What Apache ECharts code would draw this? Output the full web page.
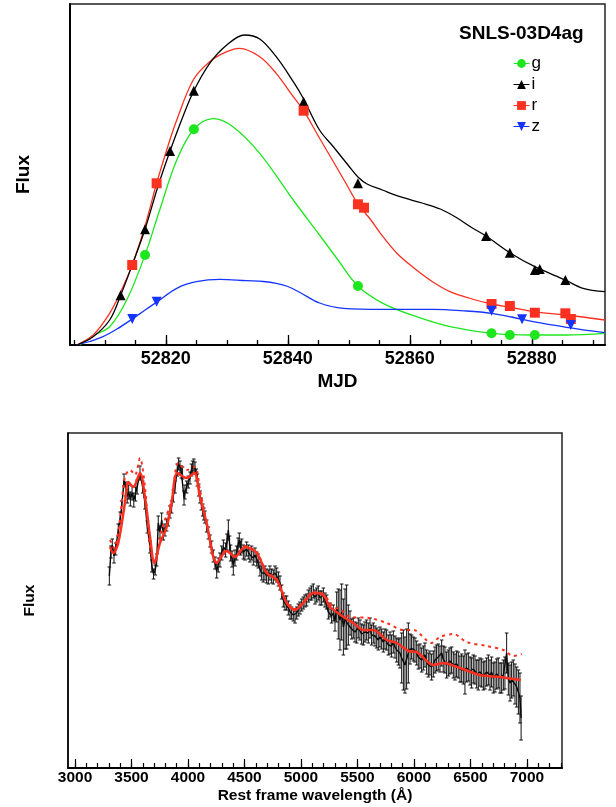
<!DOCTYPE html>
<html>
<head>
<meta charset="utf-8">
<title>SNLS-03D4ag</title>
<script src="https://cdn.jsdelivr.net/npm/echarts@6/dist/echarts.min.js"></script>
<style>
html, body { margin: 0; padding: 0; background: #fff; }
#chart { width: 616px; height: 807px; }
</style>
</head>
<body>
<div id="chart"></div>
<script>
// ---- light curve (top panel) ----
var mjdMajor = [52820, 52840, 52860, 52880];
var mjdMinor = [52805, 52810, 52815, 52820, 52825, 52830, 52835, 52840, 52845, 52850, 52855, 52860, 52865, 52870, 52875, 52880, 52885, 52890];

var gPts = [[52816.6, 9.0], [52824.6, 21.57], [52851.5, 5.9], [52873.4, 1.17], [52876.4, 1.0], [52880.5, 1.0]];
var iPts = [[52812.6, 4.97], [52816.6, 11.57], [52820.7, 19.4], [52824.6, 25.43], [52842.6, 24.33], [52851.5, 16.17],
            [52872.5, 10.9], [52876.4, 9.23], [52880.5, 7.5], [52881.3, 7.6], [52885.5, 6.5]];
var rPts = [[52814.5, 8.0], [52818.5, 16.17], [52842.6, 23.43], [52851.5, 14.07], [52852.5, 13.73], [52873.4, 4.1],
            [52876.4, 3.9], [52880.5, 3.23], [52885.5, 3.17], [52886.4, 2.6]];
var zPts = [[52814.5, 2.6], [52818.5, 4.33], [52873.4, 3.43], [52878.4, 2.57], [52886.4, 2.0]];

var gCurve = [[52805.9, 0], [52808.3, 1.0], [52810.8, 1.83], [52813.6, 4.5], [52816.6, 9.0], [52819, 13.5], [52821.8, 18.5],
              [52824.6, 21.57], [52827.8, 22.63], [52831, 21.83], [52835.4, 19.17], [52840.9, 14.5], [52845.2, 11.0],
              [52848, 8.7], [52851.5, 5.9], [52855.6, 4.17], [52861.1, 2.83], [52866.6, 1.83], [52873.4, 1.17],
              [52880.2, 1.0], [52885.7, 1.0], [52892, 1.17]];
var iCurve = [[52805.4, 0], [52808.1, 0.83], [52810.8, 2.5], [52812.6, 4.97], [52814.6, 8.17], [52816.6, 11.57],
              [52818.7, 15.83], [52820.7, 19.4], [52822.8, 22.83], [52824.6, 25.43], [52827.2, 28.17], [52830, 30.0],
              [52832.9, 31.0], [52835.4, 30.6], [52838.1, 28.83], [52840.9, 26.33], [52842.6, 24.6], [52845.2, 21.5],
              [52847.5, 19.8], [52850, 17.9], [52851.5, 16.8], [52853, 16.1], [52855.5, 15.5], [52858.4, 14.83],
              [52862, 14.2], [52865, 13.6], [52867.5, 12.8], [52870, 11.8], [52872.5, 10.9], [52876.4, 9.23],
              [52880.5, 7.83], [52885.5, 6.5], [52888.4, 5.67], [52892, 5.33]];
var rCurve = [[52805.4, 0], [52808.1, 1.0], [52810.8, 3.17], [52812.6, 5.3], [52814.5, 8.0], [52816.6, 11.9],
              [52818.5, 16.17], [52820.2, 19.6], [52821.8, 22.5], [52824.5, 26.5], [52827.2, 28.33], [52830, 29.33],
              [52832.1, 29.67], [52835.4, 28.83], [52838.1, 27.17], [52840.9, 24.83], [52842.6, 23.43], [52845, 20.9],
              [52847.5, 18.3], [52849.5, 16.2], [52851.5, 14.1], [52853.5, 12.6], [52855.6, 10.83], [52858, 9.1],
              [52861.1, 7.5], [52863.8, 6.3], [52866.6, 5.33], [52870.2, 4.6], [52873.4, 4.1], [52876.7, 3.75],
              [52880.2, 3.33], [52885.7, 3.0], [52892, 2.5]];
var zCurve = [[52805.4, 0], [52807.5, 0.35], [52809.7, 0.83], [52812, 1.6], [52814.5, 2.6], [52816.5, 3.45],
              [52818.6, 4.33], [52821.8, 5.67], [52825, 6.33], [52828.9, 6.57], [52833.2, 6.43], [52836, 6.35],
              [52838.1, 6.17], [52840, 5.85], [52842, 5.25], [52845.2, 4.2], [52849.1, 3.67], [52855.6, 3.57],
              [52863.8, 3.57], [52869.3, 3.4], [52873.4, 3.17], [52876.7, 2.8], [52880.2, 2.33], [52885.7, 1.77],
              [52892, 1.23]];

// ---- spectrum (bottom panel) ----
var waveMajor = [3000, 3500, 4000, 4500, 5000, 5500, 6000, 6500, 7000];
var waveMinor = [];
for (var w = 3000; w <= 7300; w += 100) waveMinor.push(w);

var specWave = [3304, 3318, 3330, 3345, 3360, 3383, 3400, 3413, 3434, 3448, 3462, 3475, 3490, 3505, 3520, 3535, 3550, 3575,
  3599, 3619, 3640, 3664, 3680, 3695, 3710, 3723, 3737, 3752, 3767, 3782, 3796, 3811, 3826, 3840, 3855, 3870, 3885, 3905,
  3917, 3929, 3941, 3952, 3965, 3973, 3988, 4003, 4018, 4030, 4041, 4052, 4062, 4073, 4083, 4095, 4106, 4118, 4130, 4140,
  4150, 4165, 4180, 4195, 4209, 4224, 4239, 4254, 4268, 4283, 4298, 4313, 4333, 4345, 4357, 4368, 4377, 4390, 4401, 4416,
  4431, 4443, 4454, 4465, 4475, 4490, 4504, 4519, 4534, 4548, 4563, 4578, 4593, 4608, 4622, 4637, 4652, 4666, 4681, 4696,
  4711, 4725, 4740, 4755, 4770, 4785, 4800, 4814, 4829, 4844, 4858, 4873, 4888, 4903, 4917, 4932, 4947, 4962, 4976, 4991,
  5006, 5020, 5035, 5050, 5065, 5080, 5094, 5109, 5124, 5139, 5153, 5168, 5183, 5198, 5212, 5227, 5242, 5257, 5271, 5286,
  5301, 5316, 5330, 5345, 5360, 5375, 5390, 5404, 5419, 5434, 5449, 5463, 5478, 5493, 5507, 5522, 5537, 5552, 5566, 5581,
  5596, 5611, 5625, 5640, 5655, 5670, 5684, 5699, 5714, 5729, 5743, 5758, 5773, 5788, 5802, 5817, 5832, 5847, 5862, 5876,
  5891, 5906, 5920, 5935, 5950, 5965, 5979, 5994, 6009, 6024, 6038, 6053, 6068, 6083, 6097, 6112, 6127, 6141, 6156, 6171,
  6186, 6200, 6215, 6230, 6245, 6259, 6274, 6289, 6304, 6318, 6333, 6348, 6363, 6377, 6392, 6407, 6422, 6437, 6451, 6466,
  6481, 6496, 6510, 6525, 6540, 6555, 6569, 6584, 6599, 6614, 6628, 6643, 6658, 6673, 6687, 6702, 6717, 6732, 6746, 6761,
  6776, 6791, 6805, 6820, 6835, 6850, 6864, 6879, 6894, 6909, 6924, 6938, 6948];
var specFlux = [19.2, 21.6, 22.3, 21.2, 21.9, 23.8, 25.0, 26.1, 28.8, 27.9, 27.2, 27.6, 26.9, 27.5, 26.8, 27.4, 28.1, 29.5,
  28.1, 26.5, 24.1, 22.1, 20.2, 19.4, 19.8, 20.8, 24.5, 23.6, 24.8, 23.4, 23.8, 24.3, 24.8, 25.6, 26.1, 27.2, 28.1, 29.8,
  30.4, 30.1, 29.6, 29.5, 27.0, 27.6, 28.1, 28.6, 29.0, 29.8, 30.1, 30.3, 30.0, 29.3, 28.8, 27.8, 27.1, 26.4, 25.8, 25.4,
  25.1, 24.2, 23.5, 22.7, 22.1, 21.2, 20.5, 19.7, 20.3, 20.8, 21.5, 22.1, 21.8, 22.6, 23.8, 22.4, 21.5, 20.9, 20.3, 21.0,
  21.5, 22.3, 22.8, 22.0, 22.2, 21.6, 21.5, 21.9, 21.6, 21.3, 21.5, 21.0, 21.3, 20.9, 20.7, 19.9, 19.5, 19.3, 19.5, 19.2,
  19.1, 19.5, 19.2, 19.1, 19.5, 19.3, 18.9, 18.5, 17.6, 16.8, 16.5, 16.5, 16.0, 15.6, 15.5, 15.3, 15.1, 15.5, 15.8, 16.0,
  16.3, 16.5, 16.7, 16.8, 17.2, 17.4, 17.5, 17.7, 17.1, 17.3, 17.5, 17.0, 17.0, 17.3, 16.8, 16.6, 15.6, 15.8, 15.2, 15.5,
  14.7, 16.1, 15.4, 14.8, 15.6, 14.1, 14.9, 15.1, 14.3, 14.5, 13.9, 14.0, 13.6, 13.5, 14.0, 13.8, 13.4, 13.3, 13.6, 13.8,
  13.5, 14.0, 13.3, 13.5, 13.2, 13.0, 12.8, 13.1, 12.9, 12.6, 12.9, 12.8, 12.3, 12.5, 12.2, 12.6, 12.1, 11.8, 11.6, 11.5,
  11.0, 10.8, 10.3, 10.9, 11.5, 11.9, 12.1, 11.9, 11.8, 11.5, 11.1, 11.2, 10.8, 11.0, 11.3, 10.6, 10.3, 10.5, 10.1, 10.4,
  10.8, 11.0, 11.1, 10.9, 11.5, 10.9, 10.8, 10.3, 10.5, 10.7, 10.8, 10.3, 10.1, 10.4, 10.3, 9.9, 10.0, 9.8, 9.6, 10.0,
  10.1, 9.7, 9.5, 9.9, 9.8, 9.4, 9.3, 9.6, 9.5, 9.2, 9.3, 9.6, 9.8, 9.3, 9.6, 9.0, 9.1, 9.4, 9.5, 9.0,
  9.0, 9.3, 9.5, 11.5, 8.9, 8.5, 8.8, 9.0, 8.4, 8.1, 7.6, 7.0, 5.0];
var specErr = [0.9, 0.6, 0.6, 0.7, 0.6, 0.6, 0.6, 0.6, 0.6, 0.7, 0.7, 0.7, 0.7, 0.7, 0.7, 0.7, 0.7, 0.7,
  0.6, 0.6, 0.6, 0.6, 0.6, 0.5, 0.5, 0.6, 0.7, 0.6, 0.7, 0.6, 0.6, 0.6, 0.6, 0.6, 0.6, 0.6, 0.6, 0.6,
  0.6, 0.6, 0.6, 0.6, 0.7, 0.7, 0.6, 0.6, 0.6, 0.6, 0.6, 0.6, 0.6, 0.6, 0.6, 0.6, 0.6, 0.6, 0.6, 0.6,
  0.6, 0.6, 0.6, 0.6, 0.6, 0.6, 0.6, 0.7, 0.7, 0.7, 0.7, 0.7, 0.7, 0.8, 1.0, 0.8, 0.8, 0.8, 1.0, 0.8,
  0.7, 0.7, 0.7, 0.7, 0.7, 0.7, 0.7, 0.7, 0.7, 0.7, 0.7, 0.7, 0.7, 0.7, 0.7, 0.7, 0.7, 0.7, 0.7, 0.7,
  0.7, 0.7, 0.7, 0.7, 0.7, 0.7, 0.7, 0.7, 0.7, 0.7, 0.7, 0.7, 0.7, 0.7, 0.6, 0.6, 0.6, 0.6, 0.6, 0.6,
  0.6, 0.6, 0.6, 0.6, 0.6, 0.6, 0.7, 0.7, 0.7, 0.7, 0.7, 0.7, 0.7, 0.7, 0.7, 0.7, 0.7, 0.7, 0.7, 0.8,
  1.0, 1.5, 2.5, 3.0, 2.8, 2.8, 3.0, 3.2, 2.0, 1.2, 1.0, 1.0, 1.0, 1.0, 1.0, 1.0, 1.0, 1.0, 1.0, 1.0,
  1.0, 1.0, 1.0, 1.0, 1.0, 1.0, 1.0, 1.0, 1.0, 1.0, 1.0, 1.0, 1.0, 1.1, 1.1, 1.1, 1.1, 1.2, 1.3, 1.5,
  2.5, 3.0, 2.8, 3.0, 3.0, 1.5, 1.2, 1.2, 1.2, 1.2, 1.2, 1.2, 1.2, 1.2, 1.2, 1.2, 1.2, 1.2, 1.3, 1.3,
  1.3, 1.3, 1.3, 1.3, 1.3, 1.3, 1.3, 1.3, 1.3, 1.3, 1.3, 1.3, 1.3, 1.3, 1.3, 1.3, 1.4, 1.4, 2.2, 1.4,
  1.4, 1.4, 1.5, 1.4, 1.4, 1.4, 1.5, 1.4, 1.4, 1.4, 1.4, 1.4, 1.5, 1.5, 1.5, 1.5, 1.5, 1.5, 1.5, 1.5,
  1.5, 1.5, 1.6, 2.0, 1.6, 1.8, 1.8, 1.8, 2.0, 2.0, 2.2, 2.5, 2.2];

var modelWave = [3310, 3339, 3383, 3442, 3472, 3516, 3575, 3619, 3664, 3702, 3752, 3811, 3855, 3905, 3988, 4056, 4106, 4165,
  4254, 4342, 4416, 4504, 4608, 4696, 4785, 4873, 4947, 5020, 5109, 5197, 5257, 5316, 5375, 5463, 5552, 5640, 5758, 5847,
  5950, 6024, 6171, 6259, 6407, 6584, 6761, 6945];
var modelFlux = [22.1, 21.5, 22.5, 26.5, 28.6, 28.1, 29.5, 27.1, 23.1, 20.5, 22.5, 24.1, 26.5, 29.5, 29.0, 29.5, 27.1, 24.5,
  20.5, 21.7, 21.1, 22.1, 21.5, 19.5, 18.8, 16.5, 15.8, 16.5, 17.5, 17.3, 16.1, 15.6, 15.1, 14.5, 13.8, 13.8, 12.8, 12.5,
  11.7, 11.6, 10.3, 10.5, 10.0, 9.3, 9.1, 8.8];

var altWave = [3310, 3345, 3390, 3442, 3487, 3531, 3575, 3619, 3664, 3708, 3767, 3855, 3914, 3988, 4062, 4106, 4165, 4254,
  4342, 4416, 4504, 4608, 4696, 4785, 4873, 4947, 5020, 5109, 5197, 5286, 5345, 5434, 5611, 5758, 5905, 5994, 6156, 6230,
  6348, 6466, 6643, 6790, 6879, 6953];
var altFlux = [22.8, 22.0, 24.2, 29.1, 29.8, 29.3, 31.0, 28.1, 22.1, 20.5, 23.8, 26.8, 30.5, 29.8, 30.1, 27.8, 24.6, 20.6,
  21.8, 21.2, 22.2, 21.6, 19.6, 18.9, 16.6, 15.9, 16.6, 17.6, 17.4, 16.1, 15.9, 15.1, 15.0, 14.5, 13.8, 13.8, 12.5, 13.1,
  13.4, 12.6, 12.2, 11.8, 11.2, 11.4];

function zip(a, b) {
    var out = [];
    for (var k = 0; k < a.length; k++) out.push([a[k], b[k]]);
    return out;
}
var specData = zip(specWave, specFlux);
var errData = [];
for (var k = 0; k < specWave.length; k++) errData.push([specWave[k], specFlux[k], specErr[k]]);

var FONT = "'Liberation Sans', Arial, Helvetica, sans-serif";
var GREEN = '#1ee61e', BLACK = '#000000', RED = '#fa3020', BLUE = '#1434ff';

function plain(v) { return String(v); }

function renderErr(params, api) {
    var x = api.value(0), y = api.value(1), e = api.value(2);
    var lo = api.coord([x, y - e]);
    var hi = api.coord([x, y + e]);
    var c = 1.8;
    var st = {stroke: '#111', lineWidth: 1};
    return {
        type: 'group',
        children: [
            {type: 'line', shape: {x1: lo[0], y1: lo[1], x2: hi[0], y2: hi[1]}, style: st},
            {type: 'line', shape: {x1: lo[0] - c, y1: lo[1], x2: lo[0] + c, y2: lo[1]}, style: st},
            {type: 'line', shape: {x1: hi[0] - c, y1: hi[1], x2: hi[0] + c, y2: hi[1]}, style: st}
        ]
    };
}

function curveSeries(data, color) {
    return {
        type: 'line', data: data, xAxisIndex: 0, yAxisIndex: 0,
        showSymbol: false, smooth: 0.35, silent: true, z: 2,
        lineStyle: {color: color, width: 1.3}
    };
}
function pointSeries(name, data, color, symbol, size, rot) {
    return {
        name: name, type: 'line', data: data, xAxisIndex: 0, yAxisIndex: 0,
        symbol: symbol, symbolSize: size, symbolRotate: rot || 0, showSymbol: true, z: 5,
        itemStyle: {color: color},
        lineStyle: {color: color, opacity: 0}
    };
}

var chart = echarts.init(document.getElementById('chart'));
var option = {
    animation: false,
    backgroundColor: '#ffffff',
    textStyle: {fontFamily: FONT},
    title: {
        text: 'SNLS-03D4ag', left: 454, top: 19,
        textStyle: {fontFamily: FONT, fontSize: 19, fontWeight: 'bold', color: '#000'}
    },
    legend: {
        data: ['g', 'i', 'r', 'z'],
        orient: 'vertical', left: 508, top: 50,
        itemWidth: 16, itemHeight: 11, itemGap: 4,
        textStyle: {fontFamily: FONT, fontSize: 17, color: '#000', padding: [0, 0, 0, -3]},
        lineStyle: {opacity: 1, width: 1},
        selectedMode: false
    },
    grid: [
        {left: 70, top: 4, right: 11, bottom: 462, show: true, borderColor: '#222', borderWidth: 1.5},
        {left: 68, top: 433, right: 54, bottom: 39, show: true, borderColor: '#222', borderWidth: 1.5}
    ],
    xAxis: [
        {
            type: 'value', gridIndex: 0, min: 52804.3, max: 52892, position: 'bottom',
            name: 'MJD', nameLocation: 'middle', nameGap: 27,
            nameTextStyle: {fontFamily: FONT, fontSize: 19, fontWeight: 'bold', color: '#000'},
            axisLine: {lineStyle: {color: '#000', width: 2}},
            axisTick: {inside: true, length: 10, customValues: mjdMajor, lineStyle: {color: '#000', width: 1.3}},
            axisLabel: {customValues: mjdMajor, formatter: plain, margin: 5, fontFamily: FONT, fontSize: 18, fontWeight: 'bold', color: '#000'},
            splitLine: {show: false}
        },
        {
            type: 'value', gridIndex: 0, min: 52804.3, max: 52892, position: 'bottom',
            axisLine: {show: false},
            axisTick: {inside: true, length: 5, customValues: mjdMinor, lineStyle: {color: '#000', width: 1.3}},
            axisLabel: {show: false},
            splitLine: {show: false}
        },
        {
            type: 'value', gridIndex: 1, min: 2938, max: 7310, position: 'bottom',
            name: 'Rest frame wavelength (Å)', nameLocation: 'middle', nameGap: 20,
            nameTextStyle: {fontFamily: FONT, fontSize: 15.5, fontWeight: 'bold', color: '#000'},
            axisLine: {lineStyle: {color: '#000', width: 2}},
            axisTick: {inside: true, length: 9, customValues: waveMajor, lineStyle: {color: '#000', width: 1.2}},
            axisLabel: {customValues: waveMajor, formatter: plain, margin: 2, fontFamily: FONT, fontSize: 15.5, fontWeight: 'bold', color: '#000'},
            splitLine: {show: false}
        },
        {
            type: 'value', gridIndex: 1, min: 2938, max: 7310, position: 'bottom',
            axisLine: {show: false},
            axisTick: {inside: true, length: 5, customValues: waveMinor, lineStyle: {color: '#000', width: 1.2}},
            axisLabel: {show: false},
            splitLine: {show: false}
        }
    ],
    yAxis: [
        {
            type: 'value', gridIndex: 0, min: 0, max: 34.1,
            name: 'Flux', nameLocation: 'middle', nameGap: 37, nameRotate: 90,
            nameTextStyle: {fontFamily: FONT, fontSize: 19, fontWeight: 'bold', color: '#000'},
            axisLine: {show: true, lineStyle: {color: '#000', width: 2}},
            axisTick: {show: false}, axisLabel: {show: false}, splitLine: {show: false}
        },
        {
            type: 'value', gridIndex: 1, min: 0, max: 33.5,
            name: 'Flux', nameLocation: 'middle', nameGap: 30, nameRotate: 90,
            nameTextStyle: {fontFamily: FONT, fontSize: 15.5, fontWeight: 'bold', color: '#000'},
            axisLine: {show: true, lineStyle: {color: '#000', width: 1.5}},
            axisTick: {show: false}, axisLabel: {show: false}, splitLine: {show: false}
        }
    ],
    series: [
        curveSeries(gCurve, GREEN),
        curveSeries(zCurve, BLUE),
        curveSeries(rCurve, RED),
        curveSeries(iCurve, BLACK),
        pointSeries('g', gPts, GREEN, 'circle', 10),
        pointSeries('i', iPts, BLACK, 'triangle', 10),
        pointSeries('r', rPts, RED, 'rect', 10),
        pointSeries('z', zPts, BLUE, 'triangle', 10, 180),
        {
            type: 'line', data: specData, xAxisIndex: 2, yAxisIndex: 1,
            showSymbol: false, silent: true, z: 2,
            lineStyle: {color: '#000', width: 1.4}
        },
        {
            type: 'custom', data: errData, xAxisIndex: 2, yAxisIndex: 1,
            renderItem: renderErr, silent: true, z: 3,
            encode: {x: 0, y: 1}
        },
        {
            type: 'line', data: zip(altWave, altFlux), xAxisIndex: 2, yAxisIndex: 1,
            showSymbol: false, smooth: 0.3, silent: true, z: 4,
            lineStyle: {color: RED, width: 2, type: [3, 4]}
        },
        {
            type: 'line', data: zip(modelWave, modelFlux), xAxisIndex: 2, yAxisIndex: 1,
            showSymbol: false, smooth: 0.3, silent: true, z: 5,
            lineStyle: {color: RED, width: 2.5}
        }
    ]
};
chart.setOption(option);
</script>
</body>
</html>
